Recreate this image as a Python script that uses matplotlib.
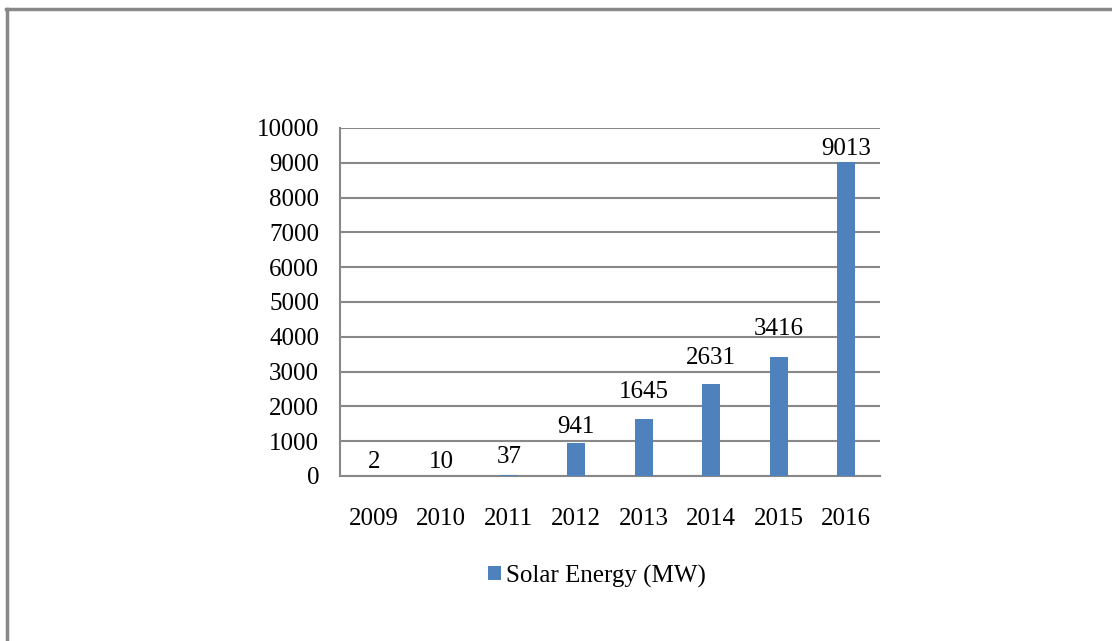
import matplotlib
matplotlib.use("Agg")
import matplotlib.pyplot as plt
from matplotlib.lines import Line2D
import numpy as np

years = ["2009", "2010", "2011", "2012", "2013", "2014", "2015", "2016"]
solar_mw = [2, 10, 37, 941, 1645, 2631, 3416, 9013]
series_name = "Solar Energy (MW)"
yticks = [0, 1000, 2000, 3000, 4000, 5000, 6000, 7000, 8000, 9000, 10000]

plt.rcParams['font.family'] = ['Liberation Serif', 'DejaVu Serif']
FS = 18

fig = plt.figure(figsize=(11.12, 6.41), dpi=100)
ax = fig.add_axes([340/1112, 1-476/641, 540/1112, 348/641])

x = np.arange(len(years))
bars = ax.bar(x, solar_mw, width=0.26, color="#4F81BD", label=series_name, zorder=3)
# label lift above bar (points), as placed in the original
label_lift = [2, 2, 5, 4, 11, 11, 12, 2]
for xi, v, lift in zip(x, solar_mw, label_lift):
    ax.annotate(str(v), (xi, v), xytext=(0, lift), textcoords="offset points",
                ha="center", va="bottom", fontsize=FS)

ax.set_xlim(-0.5, len(years) - 0.5)
ax.set_ylim(0, 10000)
ax.set_yticks(yticks)
ax.set_yticklabels([str(t) for t in yticks], fontsize=FS)
ax.set_xticks(x)
ax.set_xticklabels(years, fontsize=FS)
ax.tick_params(axis="both", length=0)
ax.tick_params(axis="x", pad=23)
ax.tick_params(axis="y", pad=15)
ax.yaxis.grid(True, color="#888888", linewidth=1.5, zorder=0)
for s in ["top", "right"]:
    ax.spines[s].set_visible(False)
for s in ["left", "bottom"]:
    ax.spines[s].set_color("#888888")
    ax.spines[s].set_linewidth(1.5)

leg = fig.legend(handles=[bars], labels=[series_name], loc="center",
                 bbox_to_anchor=(597/1112, 1-576/641), frameon=False, fontsize=FS,
                 handlelength=0.5, handleheight=0.5, handletextpad=0.2)

fig.add_artist(Line2D([7/1112, 7/1112], [0, 1-9/641], color="#888888", linewidth=2.5, transform=fig.transFigure))
fig.add_artist(Line2D([6/1112, 1], [1-9/641, 1-9/641], color="#888888", linewidth=2.5, transform=fig.transFigure))

fig.savefig("out.png", dpi=100)
